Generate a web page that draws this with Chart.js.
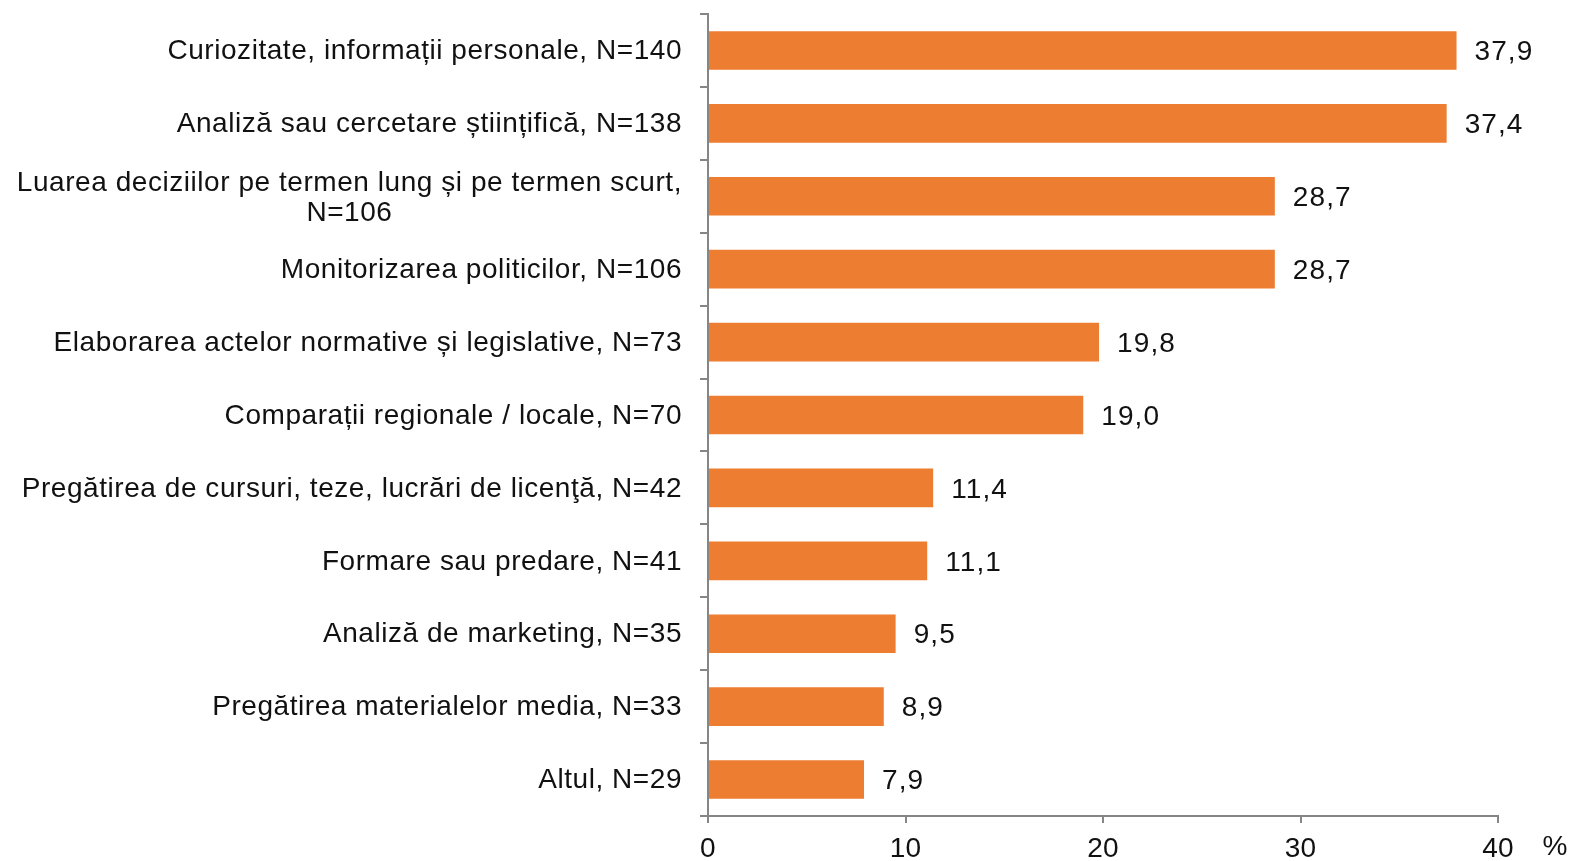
<!DOCTYPE html>
<html>
<head>
<meta charset="utf-8">
<script src="https://cdn.jsdelivr.net/npm/chart.js@4"></script>
<style>
  body { margin: 0; background: #fff; }
  #wrap { width: 1572px; height: 861px; }
</style>
</head>
<body>
<div id="wrap"><canvas id="myChart"></canvas></div>
<script>
const categories = [
  "Curiozitate, informații personale, N=140",
  "Analiză sau cercetare științifică, N=138",
  ["Luarea deciziilor pe termen lung și pe termen scurt,", "N=106"],
  "Monitorizarea politicilor, N=106",
  "Elaborarea actelor normative și legislative, N=73",
  "Comparații regionale / locale, N=70",
  "Pregătirea de cursuri, teze, lucrări de licenţă, N=42",
  "Formare sau predare, N=41",
  "Analiză de marketing, N=35",
  "Pregătirea materialelor media, N=33",
  "Altul, N=29",
];
const values = [37.9, 37.4, 28.7, 28.7, 19.8, 19.0, 11.4, 11.1, 9.5, 8.9, 7.9];
const xTicks = [0, 10, 20, 30, 40];
const unitLabel = "%";

const fontFamily = "'Liberation Sans', Arial, sans-serif";
const textColor = "#111";
const axisColor = "#868686";

// category labels: right aligned, multi-line ones centred on their widest line
const categoryLabels = {
  id: "categoryLabels",
  beforeDraw(chart) {
    chart.ctx.letterSpacing = "0.3px";
  },
  afterDraw(chart) {
    const { ctx } = chart;
    const yScale = chart.scales.y;
    ctx.save();
    ctx.font = "28px " + fontFamily;
    ctx.letterSpacing = "0.55px";
    ctx.fillStyle = textColor;
    ctx.textBaseline = "middle";
    const right = yScale.right - 26;
    categories.forEach((lab, i) => {
      const lines = Array.isArray(lab) ? lab : [lab];
      const y = yScale.getPixelForValue(i) + 1;
      if (lines.length === 1) {
        ctx.textAlign = "right";
        ctx.fillText(lines[0], right, y);
      } else {
        const maxW = Math.max(...lines.map((l) => ctx.measureText(l).width));
        ctx.textAlign = "center";
        lines.forEach((l, j) => {
          ctx.fillText(l, right - maxW / 2, y + (j - (lines.length - 1) / 2) * 30 + 1);
        });
      }
    });
    ctx.restore();
    ctx.letterSpacing = "0px";
  },
};

const valueLabels = {
  id: "valueLabels",
  afterDatasetsDraw(chart) {
    const { ctx } = chart;
    const meta = chart.getDatasetMeta(0);
    ctx.save();
    ctx.font = "28px " + fontFamily;
    ctx.letterSpacing = "1.1px";
    ctx.fillStyle = textColor;
    ctx.textAlign = "left";
    ctx.textBaseline = "middle";
    meta.data.forEach((bar, i) => {
      ctx.fillText(values[i].toFixed(1).replace(".", ","), bar.x + 18, bar.y + 2);
    });
    const xScale = chart.scales.x;
    ctx.textAlign = "center";
    ctx.letterSpacing = "0px";
    ctx.fillText(unitLabel, xScale.right + 57, xScale.top + 31);
    ctx.restore();
  },
};

new Chart(document.getElementById("myChart"), {
  type: "bar",
  data: {
    labels: categories,
    datasets: [
      {
        data: values,
        backgroundColor: "#ED7D31",
        borderWidth: 0,
        barPercentage: 0.53,
        categoryPercentage: 1,
      },
    ],
  },
  options: {
    indexAxis: "y",
    responsive: true,
    maintainAspectRatio: false,
    animation: false,
    layout: {
      padding: { top: 14, right: 74, left: 0, bottom: 0 },
    },
    scales: {
      x: {
        min: 0,
        max: 40,
        afterBuildTicks: (scale) => {
          scale.ticks = xTicks.map((v) => ({ value: v }));
        },
        afterFit: (scale) => {
          scale.height = 45;
          scale.paddingLeft = 0;
          scale.paddingRight = 0;
        },
        grid: {
          drawOnChartArea: false,
          drawTicks: true,
          tickLength: 7,
          color: axisColor,
          lineWidth: 2,
        },
        border: { display: true, color: axisColor, width: 2 },
        ticks: {
          color: textColor,
          padding: 9,
          maxRotation: 0,
          font: { family: fontFamily, size: 28 },
        },
      },
      y: {
        afterFit: (scale) => {
          scale.width = 708;
          scale.paddingTop = 0;
          scale.paddingBottom = 0;
        },
        grid: {
          drawOnChartArea: false,
          drawTicks: true,
          offset: true,
          tickLength: 8,
          color: axisColor,
          lineWidth: 2,
        },
        border: { display: true, color: axisColor, width: 2 },
        ticks: { display: false },
      },
    },
    plugins: {
      legend: { display: false },
      tooltip: { enabled: false },
    },
  },
  plugins: [categoryLabels, valueLabels],
});
</script>
</body>
</html>
